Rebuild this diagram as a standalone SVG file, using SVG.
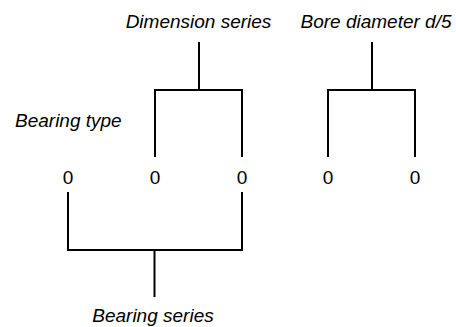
<svg xmlns="http://www.w3.org/2000/svg" width="456" height="327" viewBox="0 0 456 327">
<style>
.lbl{font-family:"Liberation Sans",Arial,sans-serif;font-size:19px;font-style:italic;fill:#000}
.dig{font-family:"Liberation Sans",Arial,sans-serif;font-size:19px;fill:#000;text-anchor:middle}
.ln{fill:none;stroke:#000;stroke-width:2;stroke-linejoin:miter;stroke-linecap:butt}
</style>
<rect width="456" height="327" fill="#fff"/>
<g id="labels">
<text class="lbl" x="198.5" y="28" text-anchor="middle">Dimension series</text>
<text class="lbl" x="376" y="28" text-anchor="middle">Bore diameter d/5</text>
<text class="lbl" x="15" y="127">Bearing type</text>
<text class="lbl" x="153" y="322" text-anchor="middle">Bearing series</text>
</g>
<g id="digits">
<text class="dig" x="68" y="184">0</text>
<text class="dig" x="155" y="184">0</text>
<text class="dig" x="242" y="184">0</text>
<text class="dig" x="328" y="184">0</text>
<text class="dig" x="415" y="184">0</text>
</g>
<g id="connectors">
<path class="ln" d="M199 42V90M155 157V90H242V157"/>
<path class="ln" d="M372 42V90M328 157V90H415V157"/>
<path class="ln" d="M68 192V250H242V192M154.5 250V297"/>
</g>
</svg>
